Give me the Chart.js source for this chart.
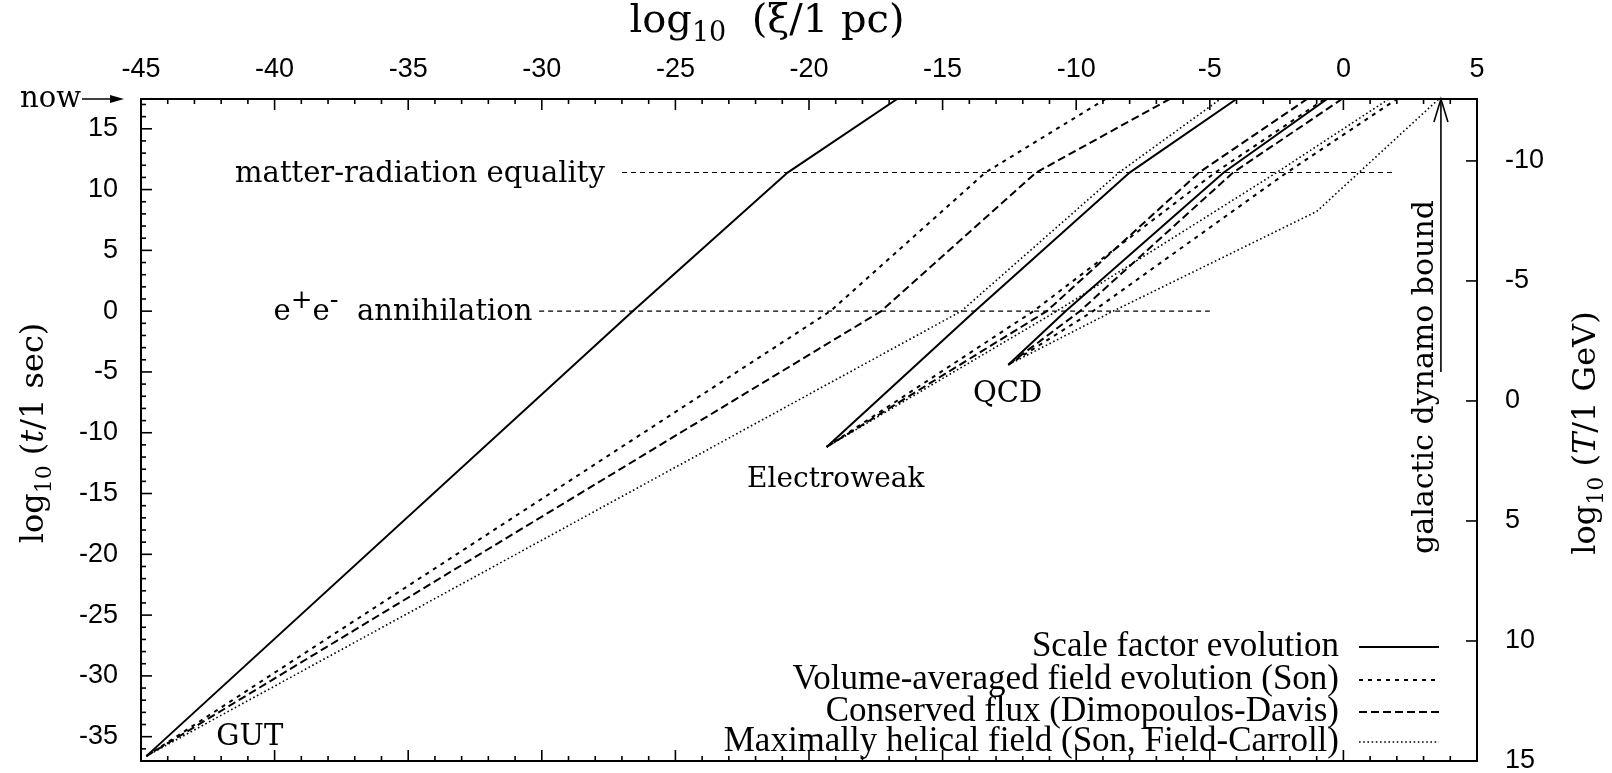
<!DOCTYPE html>
<html>
<head>
<meta charset="UTF-8">
<title>Coherence length evolution</title>
<script src="https://cdn.jsdelivr.net/npm/chart.js"></script>
<style>
html, body { margin: 0; padding: 0; background: #fff; }
</style>
</head>
<body>
<canvas id="chart" width="1612" height="773"></canvas>
<script>
// Axis ranges
const X_MIN = -45, X_MAX = 5;           // log10(xi / 1 pc)
const Y_MIN = -37, Y_MAX = 17.45;       // log10(t / 1 sec)
const T_TOP = -12.58, T_BOTTOM = 15;    // log10(T / 1 GeV), reversed

// Tick labels
const xTickLabels = [-45, -40, -35, -30, -25, -20, -15, -10, -5, 0, 5];
const yTickLabels = [-35, -30, -25, -20, -15, -10, -5, 0, 5, 10, 15];
const tTickLabels = [-10, -5, 0, 5, 10, 15];

// Epochs, log10(t / 1 sec)
const tGUT = -36.6, tEW = -11.17, tQCD = -4.41, tAnn = 0, tEq = 11.4, tNow = 17.45;

// Tracks: log10(xi / 1 pc) at each epoch listed in the matching times array
const gutTimes      = [tGUT, tAnn, tEq, tNow];
const gutScale      = [-44.8, -26.6, -20.8, -16.7];
const gutSon        = [-44.8, -19.2, -13.4, -8.9];
const gutFlux       = [-44.8, -17.3, -11.5, -6.5];
const gutHelical    = [-44.8, -14.3, -8.4, -4.6];

const ewTimes       = [tEW, tAnn, tEq, tNow];
const ewScale       = [-19.34, -13.8, -8.0, -4.0];
const ewSon         = [-19.34, -11.6, -4.8, -0.7];
const ewFlux        = [-19.34, -11.1, -5.4, -1.36];
const ewHelical     = [-19.34, -10.73, -2.5, 1.7];

const qcdTimes      = [tQCD, tAnn, tEq, tNow];
const qcdScale      = [-12.54, -10.4, -4.48, -0.61];
const qcdSon        = [-12.54, -9.37, -2.12, 2.0];
const qcdFlux       = [-12.54, -9.86, -4.13, -0.05];
const qcdHelTimes   = [tQCD, tAnn, 8.2, tNow];
const qcdHelical    = [-12.54, -8.62, -1.0, 3.57];

// Horizontal epoch markers
const eqLineX       = [-27.0, 1.93];
const annLineX      = [-30.1, -5.0];

// Galactic dynamo bound
const dynamoX       = 3.65;
const dynamoFromT   = -5.0;

const legendNames = [
    'Scale factor evolution',
    'Volume-averaged field evolution (Son)',
    'Conserved flux (Dimopoulos-Davis)',
    'Maximally helical field (Son, Field-Carroll)'
];

// Line styles per legend entry
const STYLES = [
    {dash: [], width: 2},
    {dash: [4, 5], width: 2},
    {dash: [8, 4], width: 2},
    {dash: [1.6, 2.6], width: 1.6}
];

const SANS  = '"Liberation Sans", Arial, sans-serif';
const SERIF = '"DejaVu Serif", serif';
const TIMES = '"Liberation Serif", "Times New Roman", serif';

const toPoints = (xs, ts) => xs.map((x, i) => ({x, y: ts[i]}));

const track = (xs, ts, style) => ({
    data: toPoints(xs, ts),
    borderColor: '#000',
    borderWidth: STYLES[style].width,
    borderDash: STYLES[style].dash,
    pointRadius: 0,
    tension: 0,
    fill: false
});

const marker = (xs, t) => ({
    data: toPoints(xs, [t, t]),
    borderColor: '#000',
    borderWidth: 1.1,
    borderDash: [5, 4],
    pointRadius: 0,
    fill: false
});

const datasets = [
    marker(eqLineX, tEq),
    marker(annLineX, tAnn),
    track(gutScale, gutTimes, 0),
    track(gutSon, gutTimes, 1),
    track(gutFlux, gutTimes, 2),
    track(gutHelical, gutTimes, 3),
    track(ewScale, ewTimes, 0),
    track(ewSon, ewTimes, 1),
    track(ewFlux, ewTimes, 2),
    track(ewHelical, ewTimes, 3),
    track(qcdScale, qcdTimes, 0),
    track(qcdSon, qcdTimes, 1),
    track(qcdFlux, qcdTimes, 2),
    track(qcdHelical, qcdHelTimes, 3),
    {
        data: toPoints([dynamoX, dynamoX], [dynamoFromT, tNow]),
        borderColor: '#000',
        borderWidth: 1.6,
        pointRadius: 0
    }
];

// Draws text made of parts with different fonts / vertical shifts
const drawParts = (ctx, parts, x, y, align) => {
    let total = 0;
    parts.forEach((p) => {
        ctx.font = p.font;
        total += ctx.measureText(p.text).width;
    });
    let cx = align === 'center' ? x - total / 2 : (align === 'right' ? x - total : x);
    ctx.textAlign = 'left';
    ctx.textBaseline = 'alphabetic';
    parts.forEach((p) => {
        ctx.font = p.font;
        ctx.fillText(p.text, cx, y + (p.dy || 0));
        cx += ctx.measureText(p.text).width;
    });
};

const line = (ctx, x1, y1, x2, y2) => {
    ctx.beginPath();
    ctx.moveTo(x1, y1);
    ctx.lineTo(x2, y2);
    ctx.stroke();
};

const decorations = {
    id: 'decorations',
    afterDraw(chart) {
        const ctx = chart.ctx;
        const xs  = chart.scales.x;
        const ys  = chart.scales.y;
        const ts  = chart.scales.y2;
        const {left, right, top, bottom} = chart.chartArea;

        ctx.save();
        ctx.strokeStyle = '#000';
        ctx.fillStyle   = '#000';
        ctx.setLineDash([]);

        // frame
        ctx.lineWidth = 2;
        ctx.strokeRect(left, top, right - left, bottom - top);

        // inward ticks
        ctx.lineWidth = 1.6;
        xs.ticks.forEach((t) => {
            const px  = xs.getPixelForValue(t.value);
            const len = t.value % 5 === 0 ? 11 : 5;
            line(ctx, px, top, px, top + len);
            line(ctx, px, bottom, px, bottom - len);
        });
        ys.ticks.forEach((t) => {
            const py  = ys.getPixelForValue(t.value);
            const len = t.value % 5 === 0 ? 11 : 5;
            line(ctx, left, py, left + len, py);
        });
        tTickLabels.forEach((v) => {
            const py = ts.getPixelForValue(v);
            line(ctx, right, py, right - 11, py);
        });

        // tick labels
        ctx.font = '27px ' + SANS;
        ctx.textBaseline = 'middle';
        ctx.textAlign = 'center';
        xTickLabels.forEach((v) => ctx.fillText(String(v), xs.getPixelForValue(v), top - 29));
        ctx.textAlign = 'right';
        yTickLabels.forEach((v) => ctx.fillText(String(v), left - 23, ys.getPixelForValue(v)));
        ctx.textAlign = 'left';
        tTickLabels.forEach((v) => ctx.fillText(String(v), right + 28, ts.getPixelForValue(v)));

        // axis titles
        const big = '32px ' + SERIF;
        const sub = '22px ' + SERIF;
        const ital = 'italic 32px ' + SERIF;
        drawParts(ctx, [
            {text: 'log', font: '40px ' + SERIF},
            {text: '10', font: '27px ' + SERIF, dy: 9},
            {text: '  (ξ/1 pc)', font: '40px ' + SERIF}
        ], 767, 32, 'center');

        ctx.save();
        ctx.translate(43, 433);
        ctx.rotate(-Math.PI / 2);
        drawParts(ctx, [
            {text: 'log', font: big},
            {text: '10', font: sub, dy: 8},
            {text: ' (', font: big},
            {text: 't', font: ital},
            {text: '/1 sec)', font: big}
        ], 0, 0, 'center');
        ctx.restore();

        ctx.save();
        ctx.translate(1595, 433);
        ctx.rotate(-Math.PI / 2);
        drawParts(ctx, [
            {text: 'log', font: big},
            {text: '10', font: sub, dy: 8},
            {text: ' (', font: big},
            {text: 'T', font: ital},
            {text: '/1 GeV)', font: big}
        ], 0, 0, 'center');
        ctx.restore();

        // "now" marker
        ctx.font = '29px ' + SERIF;
        ctx.textAlign = 'left';
        ctx.textBaseline = 'alphabetic';
        ctx.fillText('now', 20, top + 8);
        ctx.lineWidth = 1.6;
        line(ctx, 82, top, 118, top);
        ctx.beginPath();
        ctx.moveTo(124, top);
        ctx.lineTo(110, top - 4);
        ctx.lineTo(110, top + 4);
        ctx.closePath();
        ctx.fill();

        // epoch labels
        const lab = '29px ' + SERIF;
        ctx.font = lab;
        ctx.textAlign = 'right';
        ctx.fillText('matter-radiation equality', xs.getPixelForValue(-27.64), ys.getPixelForValue(tEq) + 9);
        drawParts(ctx, [
            {text: 'e', font: lab},
            {text: '+', font: '26px ' + SERIF, dy: -12},
            {text: 'e', font: lab},
            {text: '-', font: '26px ' + SERIF, dy: -12},
            {text: '  annihilation', font: lab}
        ], xs.getPixelForValue(-30.35), ys.getPixelForValue(tAnn) + 9, 'right');
        ctx.font = lab;
        ctx.textAlign = 'center';
        ctx.fillText('QCD', xs.getPixelForValue(-12.57), ys.getPixelForValue(-6.65) + 10);
        ctx.font = '28px ' + SERIF;
        ctx.fillText('Electroweak', xs.getPixelForValue(-19.0), ys.getPixelForValue(-13.6) + 10);
        ctx.font = lab;
        ctx.fillText('GUT', xs.getPixelForValue(-40.93), ys.getPixelForValue(-34.83) + 10);

        // galactic dynamo bound arrow head + label
        const ax = xs.getPixelForValue(dynamoX);
        ctx.lineWidth = 1.6;
        ctx.beginPath();
        ctx.moveTo(ax - 7, top + 23);
        ctx.lineTo(ax, top);
        ctx.lineTo(ax + 7, top + 23);
        ctx.stroke();
        ctx.save();
        ctx.translate(ax - 8, 377);
        ctx.rotate(-Math.PI / 2);
        ctx.font = '30px ' + SERIF;
        ctx.textAlign = 'center';
        ctx.textBaseline = 'alphabetic';
        ctx.fillText('galactic dynamo bound', 0, 0);
        ctx.restore();

        // legend
        const rows = [647, 680, 712, 742];
        ctx.font = '35px ' + TIMES;
        ctx.textAlign = 'right';
        ctx.textBaseline = 'middle';
        legendNames.forEach((name, i) => {
            ctx.fillText(name, 1339, rows[i]);
            ctx.lineWidth = STYLES[i].width;
            ctx.setLineDash(STYLES[i].dash);
            line(ctx, 1359, rows[i], 1439, rows[i]);
            ctx.setLineDash([]);
        });

        ctx.restore();
    }
};

new Chart(document.getElementById('chart'), {
    type: 'line',
    data: {datasets},
    options: {
        responsive: false,
        animation: false,
        layout: {padding: {left: 0, right: 0, top: 0, bottom: 12}},
        plugins: {legend: {display: false}, tooltip: {enabled: false}},
        scales: {
            x: {
                type: 'linear',
                position: 'top',
                min: X_MIN,
                max: X_MAX,
                ticks: {display: false, stepSize: 1},
                grid: {display: false},
                border: {display: false},
                afterFit: (s) => { s.height = 99; }
            },
            y: {
                type: 'linear',
                position: 'left',
                min: Y_MIN,
                max: Y_MAX,
                ticks: {display: false, stepSize: 1, includeBounds: false},
                grid: {display: false},
                border: {display: false},
                afterFit: (s) => { s.width = 141; }
            },
            y2: {
                type: 'linear',
                position: 'right',
                reverse: true,
                min: T_TOP,
                max: T_BOTTOM,
                ticks: {display: false, stepSize: 5, includeBounds: false},
                grid: {display: false},
                border: {display: false},
                afterFit: (s) => { s.width = 135; }
            }
        }
    },
    plugins: [decorations]
});
</script>
</body>
</html>
